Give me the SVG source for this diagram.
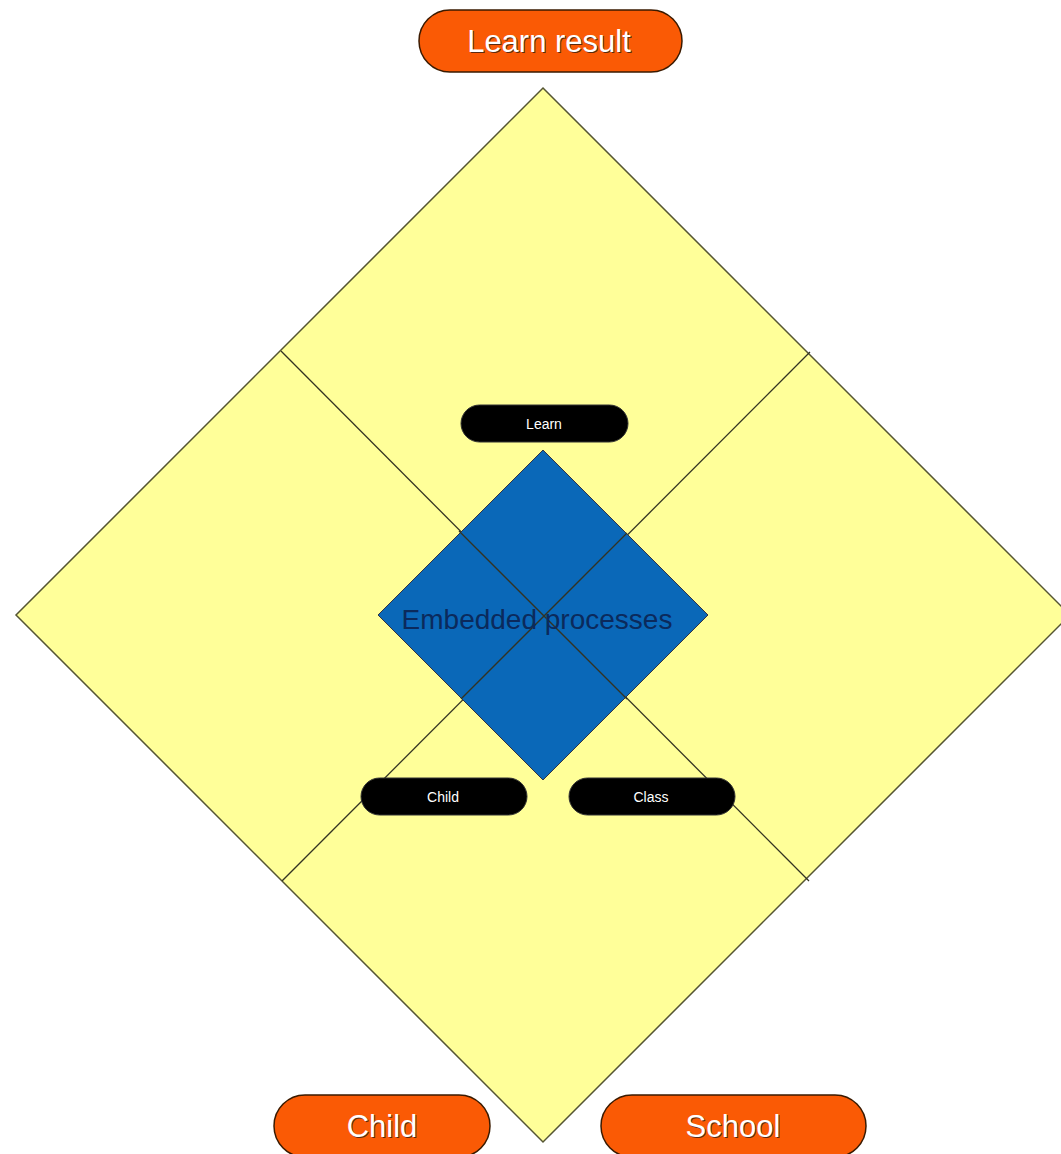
<svg xmlns="http://www.w3.org/2000/svg" width="1061" height="1154" viewBox="0 0 1061 1154">
<defs>
<style>
.big{fill:#FFFF99;stroke:#555533;stroke-width:1.5}
.blue{fill:#0A68B8;stroke:#333344;stroke-width:1}
.ln{stroke:#333322;stroke-width:1.3;fill:none}
.orange{fill:#FA5A05;stroke:#3a1a00;stroke-width:1.5}
.black{fill:#000000;stroke:#333333;stroke-width:1}
.ot{font-family:"Liberation Sans",Arial,sans-serif;font-size:31px;fill:#ffffff;text-anchor:middle}
.os{font-family:"Liberation Sans",Arial,sans-serif;font-size:31px;fill:#5a2a10;text-anchor:middle}
.bt{font-family:"Liberation Sans",Arial,sans-serif;font-size:14px;fill:#ffffff;text-anchor:middle}
.et{font-family:"Liberation Sans",Arial,sans-serif;font-size:28px;fill:#0B2A5C;text-anchor:middle}
</style>
</defs>
<rect width="1061" height="1154" fill="#ffffff"/>
<g id="outer-diamond">
<polygon class="big" points="543,88 1070,615 543,1142 16,615"/>
</g>
<g id="connectors">
<line class="ln" x1="281" y1="351" x2="809" y2="881"/>
<line class="ln" x1="810" y1="352" x2="282" y2="881"/>
</g>
<g id="embedded">
<polygon class="blue" points="543,450 708,615 543,780 378,615"/>
<line class="ln" x1="459" y1="531" x2="627" y2="699" stroke="#0a2a50"/>
<line class="ln" x1="627" y1="533" x2="461" y2="699" stroke="#0a2a50"/>
<text class="et" x="537" y="629">Embedded processes</text>
</g>
<g id="learn-result">
<rect class="orange" x="419" y="10" width="263" height="62" rx="31"/>
<text class="os" x="550" y="53">Learn result</text>
<text class="ot" x="549" y="52">Learn result</text>
</g>
<g id="learn">
<rect class="black" x="461" y="405" width="167" height="37" rx="18.5"/>
<text class="bt" x="544" y="429">Learn</text>
</g>
<g id="child-small">
<rect class="black" x="361" y="778" width="166" height="37" rx="18.5"/>
<text class="bt" x="443" y="802">Child</text>
</g>
<g id="class">
<rect class="black" x="569" y="778" width="166" height="37" rx="18.5"/>
<text class="bt" x="651" y="802">Class</text>
</g>
<g id="child">
<rect class="orange" x="274" y="1095" width="216" height="62" rx="31"/>
<text class="os" x="383" y="1138">Child</text>
<text class="ot" x="382" y="1137">Child</text>
</g>
<g id="school">
<rect class="orange" x="601" y="1095" width="265" height="62" rx="31"/>
<text class="os" x="734" y="1138">School</text>
<text class="ot" x="733" y="1137">School</text>
</g>
</svg>
